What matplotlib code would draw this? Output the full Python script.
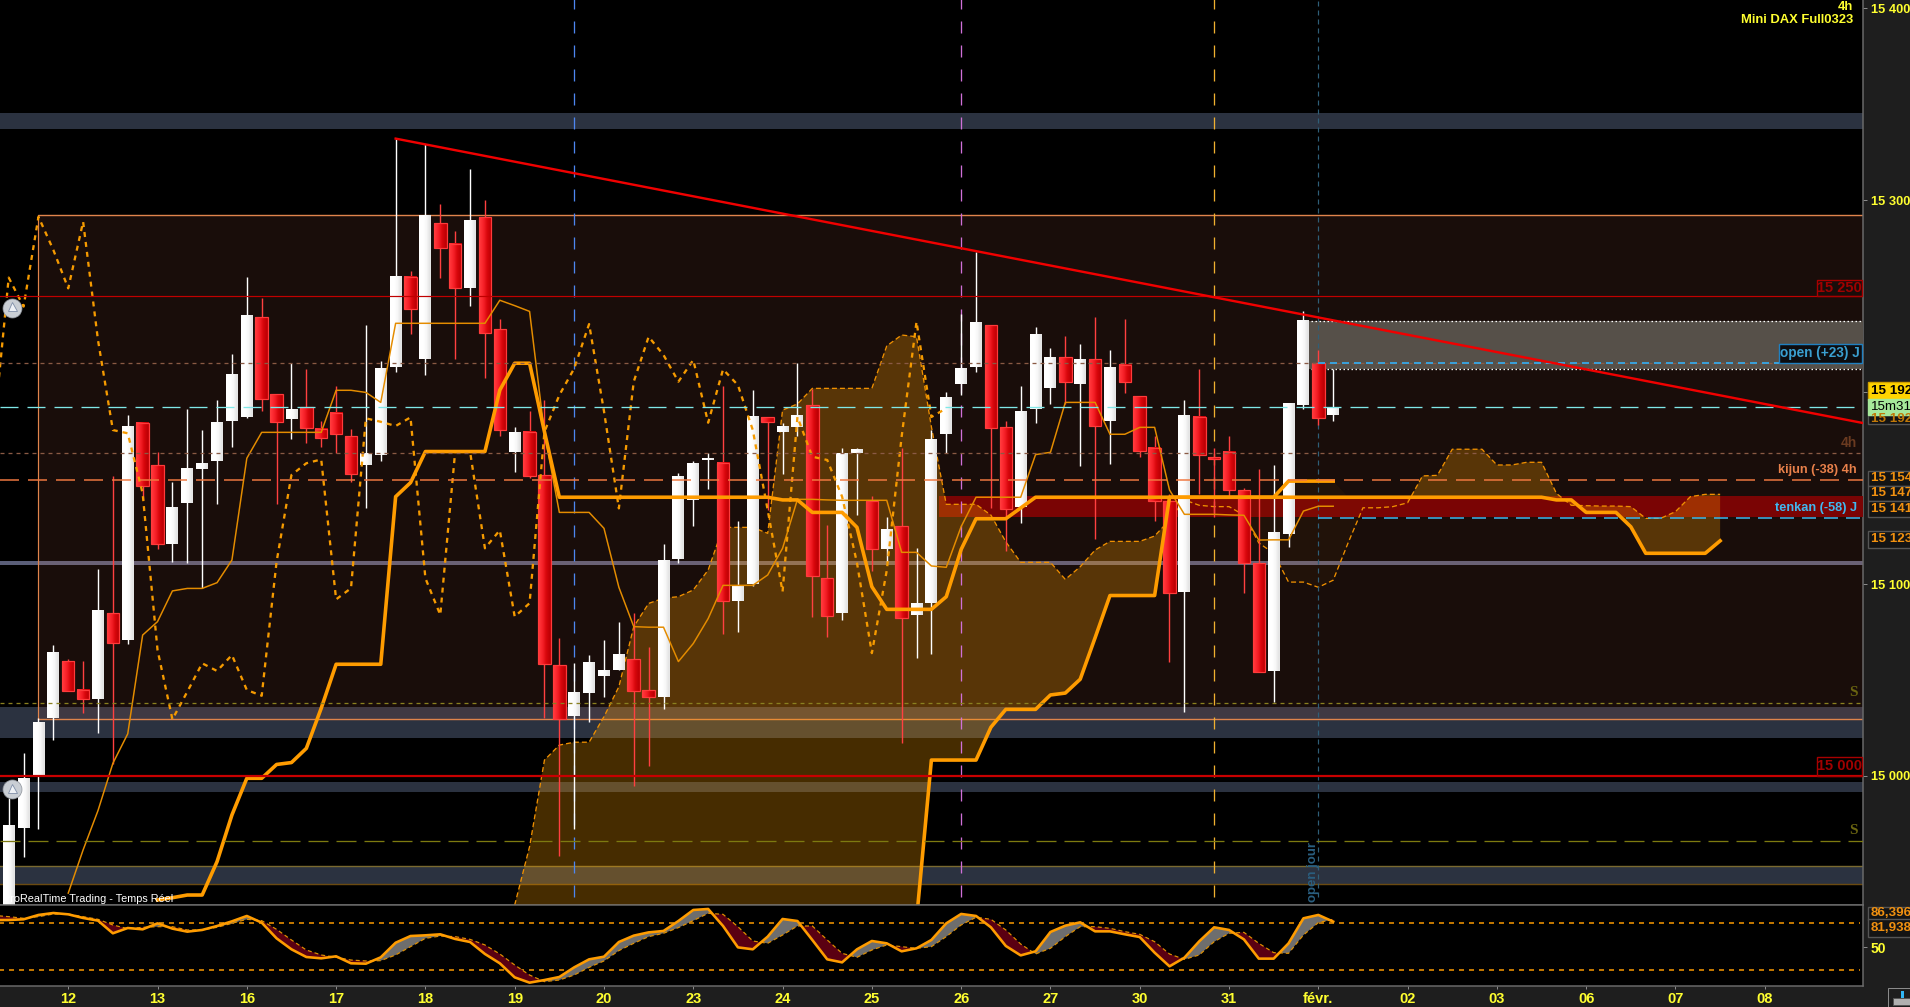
# plot.py - Mini DAX 4h chart with ichimoku lines and a stochastic panel
import matplotlib
matplotlib.use("Agg")
import matplotlib.pyplot as plt
from matplotlib.patches import Rectangle
import numpy as np

plt.rcParams["font.family"] = ["Liberation Sans", "DejaVu Sans"]
plt.rcParams["lines.scale_dashes"] = False

W, H = 1910, 1007
PX = 0.72  # one pixel in points at dpi 100

# Candles, one entry per 4h bar
opens = [14920, 14973, 15000, 15030, 15060, 15045, 15040, 15085, 15071, 15184,
         15162, 15121, 15142, 15160, 15164, 15185, 15187, 15239, 15199, 15186,
         15192, 15181, 15189, 15177, 15162, 15167, 15213, 15260, 15217, 15288,
         15277, 15254, 15291, 15232.6, 15169, 15179, 15156.6, 15057.6, 15031, 15043,
         15052, 15055, 15061, 15044.8, 15041, 15113, 15144, 15164.6, 15163, 15091.4,
         15100, 15187, 15179, 15182, 15193, 15103, 15085, 15168.4, 15143, 15118,
         15130, 15084, 15090, 15178, 15204, 15213, 15235, 15181.6, 15140, 15191,
         15202, 15218, 15204.4, 15217, 15185, 15214, 15197.8, 15170.7, 15143, 15096,
         15187, 15166, 15169, 15149, 15110.8, 15054.8, 15126, 15193, 15215, 15188]
highs = [14988.5, 15012, 15030, 15068, 15061, 15060, 15108, 15156, 15188, 15184,
         15169, 15153, 15191, 15180, 15196, 15220, 15260, 15249, 15199, 15215,
         15212, 15185, 15203, 15181, 15235, 15216, 15332, 15263, 15329, 15298,
         15284, 15316, 15300, 15238, 15182, 15190, 15196, 15072, 15059, 15063,
         15071, 15080, 15085, 15067.3, 15121, 15157.7, 15164, 15168, 15203, 15133,
         15201, 15187, 15184, 15215, 15201.4, 15130.8, 15170.7, 15170.7, 15146, 15134.8,
         15170.7, 15118.6, 15180, 15200, 15240.5, 15273, 15235, 15185, 15203, 15234,
         15223, 15229, 15225, 15239, 15222, 15238, 15197.8, 15177, 15147, 15196,
         15212, 15170.7, 15177, 15150, 15160, 15162, 15194, 15242, 15222, 15212]
lows = [14920, 14958, 14972.5, 15019, 15044.5, 15033, 15022.5, 15006, 15069, 15144,
        15118, 15111.6, 15111, 15098, 15141.6, 15171.5, 15186.6, 15190, 15141.6, 15175.5,
        15173.5, 15171.5, 15168, 15153, 15139.6, 15164, 15210.6, 15230, 15209, 15259.5,
        15217, 15245, 15207.5, 15177, 15158.5, 15155, 15030, 14958.5, 14972.5, 15028,
        15041, 15055, 14995, 15005.4, 15035, 15111, 15130, 15149.5, 15074, 15075,
        15099, 15138.6, 15157.5, 15177, 15083, 15072.6, 15081, 15136, 15107, 15111.7,
        15017, 15061.6, 15063.7, 15168, 15198.5, 15210.6, 15139.8, 15117, 15131.6, 15184,
        15194, 15194, 15161.6, 15123.6, 15162.7, 15199.7, 15166, 15133, 15059.5, 15033.5,
        15147, 15135, 15146, 15095.5, 15054, 15038.7, 15119.5, 15191, 15183, 15185]
closes = [14974, 14999, 15028, 15064, 15044.5, 15040, 15086, 15069.5, 15182, 15151,
          15121, 15140, 15160, 15163, 15184, 15209, 15240, 15196.5, 15184.5, 15191,
          15181.4, 15176, 15178, 15157.4, 15168, 15212, 15260, 15243, 15292, 15275,
          15254, 15289, 15231, 15180, 15179, 15156, 15058.5, 15029.7, 15043, 15059,
          15055, 15063, 15044.5, 15041.3, 15112, 15156, 15163, 15165.4, 15091, 15099,
          15187, 15184.6, 15181.8, 15188, 15104, 15083.5, 15168, 15170, 15118, 15128,
          15082.5, 15090, 15175, 15197, 15212, 15236, 15181.4, 15139, 15190, 15230,
          15218, 15205, 15217, 15182.5, 15213, 15205, 15169.5, 15143, 15095.5, 15188,
          15167, 15165, 15149, 15111, 15054.3, 15127, 15194, 15237, 15186.6, 15192]

# Thick orange line, bars 10 to 115 (runs forward of the last candle)
thick_a = ([14935.4, 14936.6, 14938, 14938, 14955.4, 14979.7, 14998.8, 14998.8, 15006, 15007,
            15014.4, 15035.3, 15058.2, 15058.2, 15058.2, 15058.2, 15145.5, 15152.8,
            15169, 15169, 15169, 15169, 15169, 15201, 15215, 15215, 15179.3]
           + [15145.2] * 15
           + [15143.8, 15143.8, 15137.3, 15137.3, 15137.3, 15129.5, 15098.6,
              15086.8, 15086.8, 15086.8, 15086.8, 15093.4, 15118, 15134, 15134, 15134, 15139.6]
           + [15145.2] * 35
           + [15143.8, 15143.8, 15137.3, 15137.3, 15137.3, 15129.8,
              15116, 15116, 15116, 15116, 15116, 15122.5])

# Second thick orange line, bars 61 to 89
thick_b = [14925, 15008.3, 15008.3, 15008.3, 15008.3, 15025.4, 15034.7, 15034.7, 15034.7,
           15042.2, 15043.2, 15050.4, 15072, 15094, 15094, 15094, 15094,
           15145.2, 15145.2, 15145.2, 15145.2, 15145.2, 15145.2, 15145.2, 15145.2,
           15153.6, 15153.6, 15153.6, 15153.6]

# Thin orange line, bars 4 to 89
thin_line = [14939, 14961.5, 14982, 15006.6, 15022, 15073.4, 15080.4, 15096.4, 15097.7, 15097.7,
             15100.7, 15112.5, 15165.5, 15179, 15179, 15179, 15179, 15179, 15200.9, 15200.9,
             15199.8, 15194.6, 15235.8, 15235.8, 15235.8, 15235.8, 15235.8, 15235.8, 15235.8, 15247.8,
             15245, 15242, 15178.6, 15137.3, 15137.3, 15137.3, 15129, 15098.3, 15077.8, 15077.5,
             15077.5, 15059.6, 15069, 15082, 15099.3, 15099.3, 15099.3, 15104.7, 15118.6, 15144.1,
             15144.1, 15143.8, 15143.6, 15143.6, 15143.6, 15143.6, 15116.5, 15116.5, 15109.4, 15108.7,
             15129.9, 15145.2, 15145.2, 15145.2, 15145.2, 15167.4, 15168.6, 15194.6, 15194.6, 15194.6,
             15178, 15178, 15181.6, 15181.6, 15149, 15136.3, 15136.3, 15136.3, 15136, 15135.8,
             15122.9, 15123, 15123, 15138, 15140.5, 15140.5]

# Dashed orange line, bars -1 to 63 (starts left of the window)
dashed_line = [15180, 15259.6, 15244.5, 15291.3, 15274, 15254, 15288.7, 15227, 15180.2, 15178.5, 15147.2,
               15065.6, 15029.5, 15043.9, 15058.7, 15054.7, 15063, 15044.8, 15041.8, 15111.6, 15156.8,
               15162.9, 15164.9, 15092, 15097.8, 15186.3, 15184.5, 15182.3, 15186.8, 15103, 15083.9,
               15169, 15169, 15118.6, 15128, 15083, 15090, 15179.3, 15198.4, 15212.3, 15235.4,
               15190, 15139.4, 15205.4, 15228.8, 15219.3, 15205.4, 15216.7, 15184, 15211.8, 15203.6,
               15180.2, 15138.5, 15096, 15187, 15166.3, 15164.6, 15145.5, 15111, 15064, 15107,
               15176.7, 15236.6, 15187, 15191.5]

# Upper edge of the cloud, bars 34 to 115
cloud_top = [14932.8, 14963.2, 15008.3, 15016.1, 15017.6, 15017.6, 15030.9, 15046.5, 15077.8, 15089.9,
             15092.6, 15093.4, 15096.9, 15107.3, 15129.5, 15129.5, 15129.5, 15126.4, 15190.6, 15193.8,
             15201.9, 15201.9, 15201.9, 15201.9, 15201.9, 15224, 15229.7, 15228.8, 15181.9, 15141.5,
             15141.5, 15141.5, 15135.9, 15122, 15111.3, 15111.3, 15111.3, 15102.4, 15109, 15117.7,
             15122.2, 15122.2, 15122.2, 15125, 15133.3, 15143.8, 15141, 15140.3, 15140.3, 15135.9,
             15121.4, 15116, 15101, 15101, 15098.3, 15102, 15121.4, 15139.7, 15139.7, 15140.3,
             15142.3, 15156.3, 15156.6, 15170.2, 15170.2, 15170.2, 15162, 15162, 15163.4, 15163.4,
             15147.2, 15141, 15140.8, 15140.6, 15140.6, 15140.3, 15134.2, 15134.2, 15137.7, 15145.5,
             15146.7, 15146.7]

# Stochastic panel, bars -1 to 89
stoch_k = [85, 85.1, 86, 91.6, 94.1, 92.4, 87.7, 84.3, 68, 74.8, 73.1,
           80.8, 74, 70.1, 72.3, 77.4, 83.4, 90.3, 81.7, 61.5, 47.4,
           37.5, 35.8, 38.4, 29.4, 28.9, 37.1, 55.9, 64.5, 65.4, 66.7,
           60.7, 56.8, 41.4, 29.4, 11.3, 4.5, 7.9, 11.8, 24.2, 34.5,
           37.9, 56.8, 65, 69.2, 71, 83.8, 98, 99.3, 77.4, 49.9,
           47.4, 63.7, 86.4, 83.8, 59.4, 34.5, 30.6, 47.4, 58.1, 55.1,
           44.8, 48.7, 59.4, 80.8, 92.9, 90.3, 75.7, 51.7, 39.6, 44.8,
           69.7, 77.8, 82.1, 70.5, 70.5, 66.7, 63.2, 43.1, 25.5, 36.6,
           57.7, 75.7, 72.3, 60.2, 35.4, 35.4, 55.1, 87.3, 91.6, 83]
stoch_d = [91, 89.4, 87.3, 89.4, 92.8, 92.8, 89.4, 86, 78.7, 74, 75.7,
           76.5, 76.5, 72.3, 72.3, 75.7, 80.8, 86, 84.3, 73.1, 59.4,
           46.5, 40.1, 37.1, 33.6, 32.4, 32.8, 40.1, 50.8, 61.5, 64.5,
           63.7, 60.2, 53, 41.4, 27.2, 14.3, 5.8, 7.9, 14.3, 24.2,
           32.4, 45.7, 55.1, 63.7, 68, 75.3, 84.3, 93.7, 92.4, 76.5,
           58.1, 55.1, 65.8, 77.4, 77.4, 59.4, 42.2, 37.1, 46.5, 53,
           50.8, 48.7, 50.8, 63.7, 78.7, 88.6, 86, 72.3, 54.2, 41.4,
           48.7, 63.7, 76.5, 76.5, 74.4, 70.1, 66.7, 57.2, 41.4, 34.5,
           40.1, 57.2, 68, 69.2, 55.1, 43.1, 42.2, 65.8, 81.7, 86]

# Axis labels
day_ticks = [4 + 6 * n for n in range(20)]
day_labels = ["12", "13", "16", "17", "18", "19", "20", "23", "24", "25",
              "26", "27", "30", "31", "févr.", "02", "03", "06", "07", "08"]
price_ticks = [15000, 15100, 15200, 15300, 15400]
price_labels = ["15 000", "15 100", "15 200", "15 300", "15 400"]

# Trend line
trend_x = [26, 124.7]
trend_y = [15332, 15183.7]

# Vertical session markers (bar, colour)
session_bars = [38, 64, 81]
session_colors = ["#4d86f0", "#d070d8", "#f0b030"]


def px_text(x, y, s, **kw):
    # text placed by figure pixel, y from the top
    kw.setdefault("va", "center")
    return fig.text(x / W, 1 - y / H, s, **kw)


fig = plt.figure(figsize=(W / 100, H / 100), dpi=100, facecolor="#1e1e1e")
ax = fig.add_axes([0, 102 / H, 1863 / W, 905 / H], facecolor="black")
ax2 = fig.add_axes([0, 21 / H, 1863 / W, 81 / H], facecolor="black")

# Background bands
for lo, hi in [(15337, 15345.3), (15020, 15036), (14991.8, 14996.9), (14943.6, 14953.3)]:
    ax.axhspan(lo, hi, color="#2b3240", lw=0, zorder=1)
ax.axhspan(15110, 15112.2, color="#5a5e78", lw=0, zorder=1)
ax.axhline(14953.3, color="#7a6a30", lw=1.4 * PX, zorder=2)
ax.axhline(14943.6, color="#6a4a10", lw=1.4 * PX, zorder=2)

# Brown range box, red zone, grey open zone
ax.add_patch(Rectangle((2, 15029.5), 130, 262.5, fc=(1, 0.5, 0.39, 0.1), ec="none", zorder=2))
ax.plot([2, 2], [15029.5, 15292], color="#e0844c", lw=1.2 * PX, zorder=2.5)
ax.axhline(15292, xmin=2.6 / 125.2, color="#e0844c", lw=1.4 * PX, zorder=2.5)
ax.axhline(15029.5, xmin=2.6 / 125.2, color="#e0844c", lw=1.4 * PX, zorder=2.5)
ax.add_patch(Rectangle((62.5, 15134.9), 70, 10.9, fc="#7a0404", ec="none", zorder=3))
ax.add_patch(Rectangle((87, 15212), 50, 25, fc="#565049", ec="none", zorder=3))
for lvl in (15237, 15212):
    ax.plot([87, 125], [lvl, lvl], color="white", lw=1.3 * PX, ls=(0, (1.5 * PX, 2.5 * PX)), zorder=3.2)

# Cloud
x_cloud = np.arange(34, 34 + len(cloud_top))
cloud_low = np.array([14900] * 27 + thick_b + thick_a[80:], dtype=float)
cloud_top_arr = np.array(cloud_top)
ax.fill_between(x_cloud, cloud_top_arr, cloud_low, where=(x_cloud <= 78) | (x_cloud >= 94),
                color="#ffa000", alpha=0.28, lw=0, zorder=4)
ax.fill_between(x_cloud, cloud_top_arr, cloud_low, where=(x_cloud >= 78) & (x_cloud <= 94),
                color="#ffa000", alpha=0.035, lw=0, zorder=4)
ax.plot(x_cloud, cloud_top_arr, color="#f09000", lw=1.3 * PX, ls=(0, (5 * PX, 3 * PX)), zorder=4.2)

# Horizontal levels
ax.axhline(15250, color="#c00000", lw=1.2 * PX, zorder=7)
ax.axhline(15000, color="#c80000", lw=2.2 * PX, zorder=7)
ax.axhline(15192, color="#7fe8e8", lw=1.3 * PX, ls=(0, (18 * PX, 9 * PX)), zorder=7)
ax.axhline(15215, color="#8a5a44", lw=1.3 * PX, ls=(0, (4 * PX, 4 * PX)), zorder=7)
ax.axhline(15168, color="#8a5a44", lw=1.3 * PX, ls=(0, (4 * PX, 4 * PX)), zorder=7)
ax.axhline(15154, color="#f07840", lw=1.5 * PX, ls=(0, (19 * PX, 9 * PX)), zorder=7)
ax.axhline(15038, color="#8a8020", lw=1.3 * PX, ls=(0, (4 * PX, 4 * PX)), zorder=7)
ax.axhline(14966, color="#7d7a10", lw=1.3 * PX, ls=(0, (20 * PX, 8 * PX)), zorder=7)
ax.plot([88, 125], [15215.3, 15215.3], color="#3a9fd8", lw=2 * PX, ls=(0, (7 * PX, 5 * PX)), zorder=7.1)
ax.plot([88, 125], [15134.4, 15134.4], color="#40b8f0", lw=1.5 * PX, ls=(0, (14 * PX, 8 * PX)), zorder=7.1)

# Session verticals
for bar, col in zip(session_bars, session_colors):
    ax.plot([bar, bar], [14937, 15405], color=col, lw=1.3 * PX, ls=(0, (12 * PX, 12 * PX)), zorder=4.5)
ax.plot([88, 88], [14937, 15405], color="#2f5f78", lw=1.2 * PX, ls=(0, (5 * PX, 4 * PX)), zorder=4.5)

# Candles with a left to right gradient in the body
white_grad = np.array([[[1, 1, 1], [1, 1, 1], [0.97, 0.97, 0.97], [0.9, 0.9, 0.9]]])
red_grad = np.array([[[1, 0.2, 0.22], [0.96, 0.12, 0.15], [0.85, 0.03, 0.05], [0.76, 0, 0.02]]])
for i in range(len(opens)):
    o, h, l, c = opens[i], highs[i], lows[i], closes[i]
    up = c >= o
    ax.plot([i, i], [l, h], color="white" if up else "#ff4040", lw=1.4 * PX, zorder=5, solid_capstyle="butt")
    top, bot = max(o, c), min(o, c)
    half = 0.4 if up else 0.42
    ax.imshow(white_grad if up else red_grad, extent=(i - half, i + half, bot, top), aspect="auto",
              interpolation="bilinear", zorder=5.2)
    if not up:
        ax.add_patch(Rectangle((i - half, bot), 2 * half, top - bot, fc="none", ec="#ff3b3b", lw=1.2 * PX, zorder=5.3))

# Ichimoku style lines
ax.plot(np.arange(4, 4 + len(thin_line)), thin_line, color="#e48c00", lw=1.5 * PX, zorder=6)
ax.plot(np.arange(-1, -1 + len(dashed_line)), dashed_line, color="#f59a00", lw=2.3 * PX, ls=(0, (5 * PX, 5 * PX)), zorder=6)
ax.plot(np.arange(10, 10 + len(thick_a)), thick_a, color="#ff9c00", lw=3.6 * PX, zorder=6.2, solid_joinstyle="round")
ax.plot(np.arange(61, 61 + len(thick_b)), thick_b, color="#ff9c00", lw=3.6 * PX, zorder=6.2, solid_joinstyle="round")
ax.plot(trend_x, trend_y, color="#f00000", lw=2.4 * PX, zorder=8)

# Alert bells
for price in (15244, 14993):
    ax.plot([0.22], [price], "o", ms=19 * PX, mfc="#c9ced4", mec="#8d9299", mew=0.5, zorder=9, clip_on=False)
    ax.plot([0.22], [price + 1], "^", ms=9 * PX, mfc="#eef1f5", mec="#7f8ea8", mew=0.6, zorder=9.1)

ax.set_xlim(-0.585, 124.6)
ax.set_ylim(14932.8, 15404.2)
ax.set_xticks([])
ax.yaxis.tick_right()
ax.set_yticks(price_ticks)
ax.set_yticklabels(price_labels, color="#ffff30", fontsize=9.3, fontweight="bold")
ax.tick_params(axis="y", color="#8a8a8a", length=4 * PX, width=1 * PX, pad=4 * PX)
for name, sp in ax.spines.items():
    sp.set_visible(name == "right" or name == "bottom")
    sp.set_color("#6a6a6a")
    sp.set_linewidth(1.5 * PX)

# Stochastic panel
x_stoch = np.arange(-1, -1 + len(stoch_k))
k = np.array(stoch_k)
d = np.array(stoch_d)
ax2.fill_between(x_stoch, k, d, where=k >= d, interpolate=True, color="#6e6e6e", lw=0, zorder=2)
ax2.fill_between(x_stoch, k, d, where=k <= d, interpolate=True, color="#5a0012", lw=0, zorder=2)
ax2.plot(x_stoch, d, color="#e09000", lw=1.2 * PX, ls=(0, (4 * PX, 3 * PX)), zorder=3)
ax2.plot(x_stoch, k, color="#ff9c00", lw=2.6 * PX, zorder=4)
for lvl in (80.9, 20.4):
    ax2.plot([-1, 124.4], [lvl, lvl], color="#ff9c00", lw=1.5 * PX, ls=(0, (5 * PX, 5 * PX)), zorder=1)
ax2.set_xlim(-0.585, 124.6)
ax2.set_ylim(0.2, 104.4)
ax2.set_xticks(day_ticks)
ax2.set_xticklabels(day_labels, color="#ffff30", fontsize=10.5, fontweight="bold")
ax2.tick_params(axis="x", color="#8a8a8a", length=3 * PX, width=1 * PX, pad=2)
ax2.yaxis.tick_right()
ax2.set_yticks([50])
ax2.set_yticklabels(["50"], color="#ffff30", fontsize=10, fontweight="bold")
ax2.tick_params(axis="y", color="#8a8a8a", length=4 * PX, width=1 * PX, pad=4 * PX)
for name, sp in ax2.spines.items():
    sp.set_visible(name != "left")
    sp.set_color("#6a6a6a")
    sp.set_linewidth(1.5 * PX)

# Titles
px_text(1853, 7, "4h", color="#ffff30", fontsize=9.4, fontweight="bold", ha="right")
px_text(1853, 20, "Mini DAX Full0323", color="#ffff30", fontsize=9.4, fontweight="bold", ha="right")
px_text(3, 899, "ProRealTime Trading - Temps Réel", color="white", fontsize=7.8, zorder=20)
px_text(1313, 872, "open jour", color="#2a5f80", fontsize=9.5, fontweight="bold", rotation=90, ha="center", zorder=20)


def boxed(x0, y0, x1, y1, s, fc, ec, tc, fs=9.6, tx=None, ha="left", weight="bold"):
    # small label box given in figure pixels
    fig.add_artist(Rectangle((x0 / W, 1 - y1 / H), (x1 - x0) / W, (y1 - y0) / H, transform=fig.transFigure,
                             fc=fc, ec=ec, lw=1.4 * PX, zorder=15))
    tx = x0 + 3 if tx is None else tx
    px_text(tx, (y0 + y1) / 2, s, color=tc, fontsize=fs, fontweight=weight, ha=ha, zorder=16)


boxed(1816.5, 280, 1862, 296, "15 250", "none", "#a80000", "#a00000", fs=10.5, ha="center", tx=1839)
boxed(1816.5, 757, 1862, 776, "15 000", "none", "#a80000", "#a00000", fs=10.5, ha="center", tx=1839)
boxed(1778.6, 344, 1862, 362.7, "open (+23) J", "#0d0d10", "#2080c0", "#3a9fd0", fs=9.8, ha="center", tx=1820)
px_text(1857, 470, "kijun (-38) 4h", color="#e8804a", fontsize=9.2, fontweight="bold", ha="right", zorder=20)
px_text(1857, 508, "tenkan (-58) J", color="#40b8f0", fontsize=9.2, fontweight="bold", ha="right", zorder=20)
px_text(1857, 443, "4h", color="#6a3a20", fontsize=10, fontweight="bold", ha="right", zorder=20)
for sy in (693, 831):
    px_text(1853, sy, "S", color="#6a6410", fontsize=11, fontweight="bold", family="Liberation Serif",
            ha="center", zorder=20)

# Price boxes on the right axis
boxed(1868, 415, 1915, 424, "15 192", "#141414", "#555555", "#c07808", tx=1871)
boxed(1868, 382, 1915, 400, "15 192", "#ffd400", "#d0a000", "black", tx=1871)
boxed(1868, 399, 1915, 415, "15m31", "#a6e89a", "#a6e89a", "black", tx=1871, weight="normal")
boxed(1868, 471, 1915, 486, "15 154", "#141414", "#555555", "#f09010", tx=1871)
boxed(1868, 486, 1915, 501, "15 147", "#141414", "#555555", "#f09010", tx=1871)
boxed(1868, 501, 1915, 517, "15 141", "#141414", "#555555", "#f09010", tx=1871)
boxed(1868, 531, 1915, 548, "15 123", "#141414", "#555555", "#f09010", tx=1871)
boxed(1868, 907, 1915, 920, "86,396", "#141414", "#555555", "#f09010", tx=1871)
boxed(1868, 919, 1915, 937, "81,938", "#141414", "#555555", "#f09010", tx=1871)

# Scroll icon in the corner
fig.add_artist(Rectangle((1888 / W, 0), 30 / W, 19 / H, transform=fig.transFigure, fc="#1e1e1e", ec="#8a8a8a", lw=1 * PX))
fig.add_artist(Rectangle((1893 / W, 2 / H), 17 / W, 7 / H, transform=fig.transFigure, fc="#b0b0b0", ec="#555555", lw=1 * PX))
fig.add_artist(Rectangle((1901 / W, 9 / H), 3 / W, 7 / H, transform=fig.transFigure, fc="#30b8f8", ec="none"))

fig.savefig("out.png", dpi=100, facecolor=fig.get_facecolor())
